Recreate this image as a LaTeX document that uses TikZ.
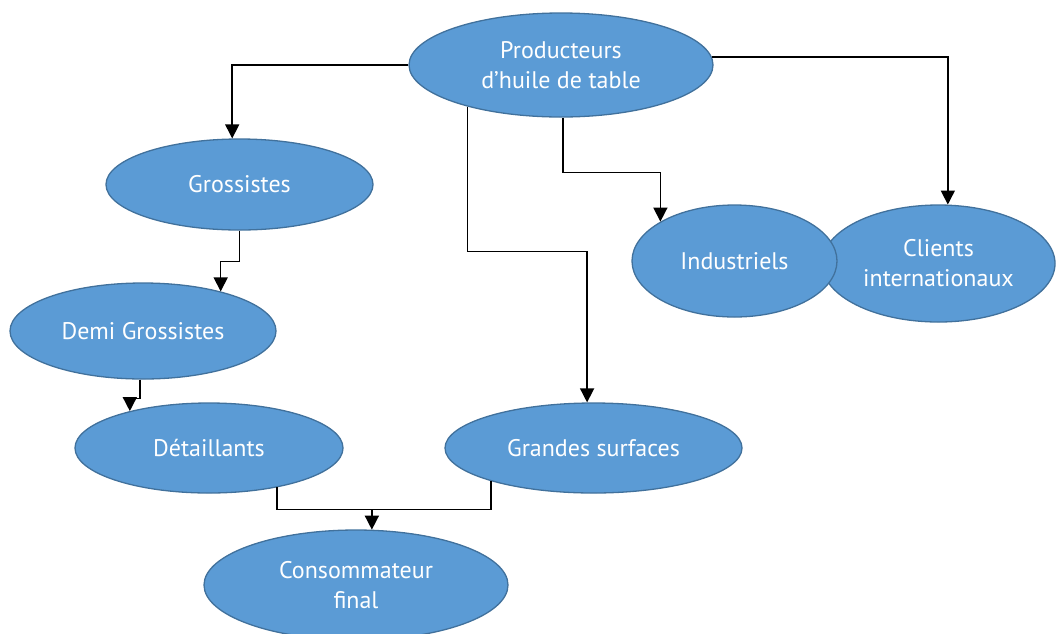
\documentclass[tikz,border=0pt]{standalone}
\usepackage{fontspec}
\setmainfont{PT Sans}
\usetikzlibrary{shapes.geometric,arrows.meta}
\definecolor{ovalfill}{RGB}{91,155,213}
\definecolor{ovaledge}{RGB}{65,113,156}
\tikzset{
  oval/.style={ellipse,draw=ovaledge,fill=ovalfill,line width=1.3pt,text=white,
    align=center,inner sep=0pt,font=\fontsize{24}{30}\selectfont},
  link/.style={draw=black,line width=1.5pt},
  arr/.style={link,-{Triangle[width=14pt,length=14pt]}}
}

\begin{document}
\begin{tikzpicture}[x=1pt,y=1pt]
  \useasboundingbox (0,0) rectangle (1056,-633);
  \clip (0,0) rectangle (1056,-633);

  \node[oval,minimum width=304pt,minimum height=104pt] (prod) at (561,-65) {Producteurs\\d’huile de table};
  \node[oval,minimum width=267pt,minimum height=91pt] (gros) at (239.5,-184.5) {Grossistes};
  \node[oval,minimum width=266pt,minimum height=96pt] (demi) at (143,-331) {Demi Grossistes};
  \node[oval,minimum width=268pt,minimum height=90pt] (det) at (209,-448) {Détaillants};
  \node[oval,minimum width=297pt,minimum height=90pt] (gs) at (593.5,-448) {Grandes surfaces};
  \node[oval,minimum width=304pt,minimum height=110pt] (cons) at (356,-585) {Consommateur\\final};
  \node[oval,minimum width=233pt,minimum height=117pt] (cli) at (938.5,-263.5) {Clients\\internationaux};
  \node[oval,minimum width=205pt,minimum height=112pt] (ind) at (734.5,-261) {Industriels};

  \draw[arr] (prod.west) -| (gros.99);
  \draw[arr] (prod.3) -| (cli.81);
  \draw[arr] (prod.204) -- ++(0,-145) -| (gs.98);
  \draw[arr] ([xshift=2pt]prod.south) -- ++(0,-55) -| (ind.152);
  \draw[arr] (gros.south) -- ++(0,-31) -| (demi.27);
  \draw[arr] ([xshift=-3pt]demi.south) -- ++(0,-19) -| (det.155);
  \draw[link] (det.-30) -- ++(0,-22) coordinate (join) -| (gs.198);
  \draw[arr] (join -| cons.74) -- (cons.74);
\end{tikzpicture}
\end{document}
